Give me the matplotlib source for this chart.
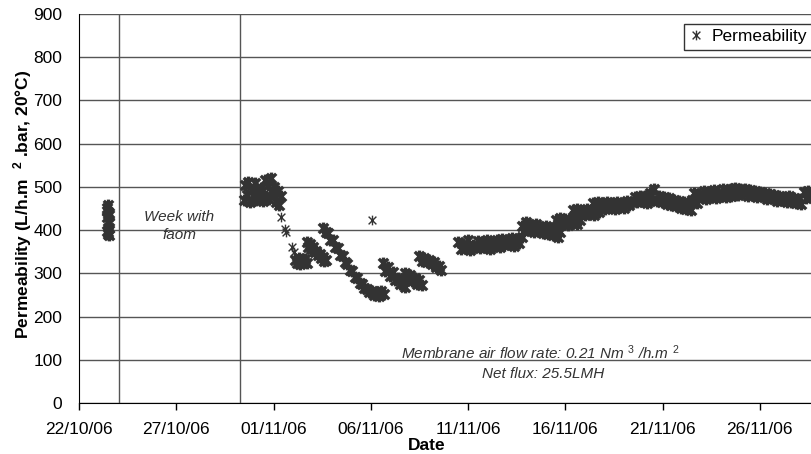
import datetime as dt

import matplotlib
matplotlib.use("Agg")
import matplotlib.pyplot as plt
import matplotlib.dates as mdates
from matplotlib.path import Path

plt.rcParams["font.family"] = ["Liberation Sans", "DejaVu Sans"]
plt.rcParams["mathtext.fontset"] = "custom"
plt.rcParams["mathtext.rm"] = "Liberation Sans"
plt.rcParams["mathtext.it"] = "Liberation Sans:italic"
plt.rcParams["mathtext.bf"] = "Liberation Sans:bold"

# permeability readings (L/h.m2.bar, 20C), one list per run
run_23oct = [430, 452, 398, 444, 392, 420, 458, 396, 436, 404, 416, 388, 440]
run_30oct = [470, 505, 482, 512, 465, 495, 478, 508, 470, 488, 475, 498,
             468, 515, 480, 505, 472, 520, 485, 500, 466, 490, 458, 478]
run_02nov_a = [332, 325, 336, 322, 330, 327, 334, 324]
run_02nov_b = [372, 362, 368, 356, 360, 350, 352, 342, 345, 335, 338, 328, 330]
run_03nov = [405, 396, 394, 378, 376, 360, 358, 343, 340, 326, 322, 308, 305,
             292, 290, 278, 276, 266, 264, 256, 258, 250, 256, 248, 258, 252]
run_06nov = [324, 306, 314, 294, 302, 284, 290, 276, 280, 268]
run_07nov = [300, 286, 296, 282, 290, 276, 284, 272]
run_08nov = [340, 328, 336, 326, 332, 322, 326, 314, 318, 308]
run_10nov = [372, 356, 368, 360, 376, 354, 366, 362, 374, 358, 372, 362, 378,
             356, 370, 364, 376, 360, 380, 366, 374, 368, 382, 364, 378, 370, 384]
run_13nov = [410, 398, 418, 402, 412, 396, 414, 400, 408, 394, 410, 392, 404,
             388, 400, 384, 396]
run_15nov = [424, 414, 428, 416, 426, 412, 422, 418, 428, 414, 424]
run_16nov = [446, 436, 450, 438, 444, 434, 448, 440, 446, 436, 450, 442]
run_17nov = [462, 450, 466, 452, 460, 448, 464, 454, 462, 450, 466, 456, 460,
             452, 468, 458, 464]
run_19nov = [476, 464, 480, 468, 478, 462, 486, 470, 494, 468, 480, 464, 476,
             460, 474, 458, 470, 456, 468, 452, 466, 448, 462, 446]
run_22nov = [470, 486, 462, 484, 476, 490, 472, 488, 478, 492, 474, 486, 480,
             494, 476, 490, 478, 494, 482]
run_24nov = [496, 484, 498, 482, 494, 486, 496, 480, 492, 484, 490, 476, 488,
             480, 486, 472, 484, 474, 482, 468, 480, 470, 476, 464, 478, 466,
             474, 462, 472, 460]
run_28nov = [488, 474, 490, 476, 486, 478]

# (first reading, hours between readings, readings)
runs = [
    ("2006-10-23 10:00", 0.3, run_23oct),
    ("2006-10-30 11:00", 2, run_30oct),
    ("2006-11-02 03:00", 2, run_02nov_a),
    ("2006-11-02 16:48", 2, run_02nov_b),
    ("2006-11-03 13:12", 3, run_03nov),
    ("2006-11-06 15:00", 3, run_06nov),
    ("2006-11-07 18:00", 3, run_07nov),
    ("2006-11-08 12:00", 3, run_08nov),
    ("2006-11-10 12:00", 3, run_10nov),
    ("2006-11-13 18:00", 3, run_13nov),
    ("2006-11-15 12:00", 3, run_15nov),
    ("2006-11-16 09:00", 3, run_16nov),
    ("2006-11-17 10:00", 3, run_17nov),
    ("2006-11-19 14:00", 3, run_19nov),
    ("2006-11-22 12:00", 3, run_22nov),
    ("2006-11-24 12:00", 3, run_24nov),
    ("2006-11-28 06:00", 3, run_28nov),
]

# single scattered readings
single_times = ["2006-11-01 09:20", "2006-11-01 14:24", "2006-11-01 16:00",
                "2006-11-01 22:48", "2006-11-02 01:12", "2006-11-06 01:26"]
single_values = [430, 403, 395, 360, 350, 423]

# start / end of the foaming week
foam_week = ["2006-10-24 01:00", "2006-10-30 07:00"]


def parse(s):
    return dt.datetime.strptime(s, "%Y-%m-%d %H:%M")


run_times, run_values = [], []
for start, step, vals in runs:
    t0 = parse(start)
    for i, v in enumerate(vals):
        run_times.append(t0 + dt.timedelta(hours=step * i))
        run_values.append(v)
single_dt = [parse(s) for s in single_times]

star = Path([(0, -1), (0, 1), (-0.8, -0.8), (0.8, 0.8), (-0.8, 0.8), (0.8, -0.8)],
            [Path.MOVETO, Path.LINETO] * 3)

fig = plt.figure(figsize=(8.11, 4.54), dpi=100)
ax = fig.add_axes([79 / 811, 51 / 454, 750.5 / 811, 389 / 454])

for s in foam_week:
    ax.axvline(parse(s), color="#555555", lw=1, zorder=1)

# dense logging runs: markers pile up into solid bands
ax.plot(run_times, run_values, linestyle="none", marker=star, ms=8.5, mew=2.4,
        color="#333333", zorder=3)
ax.plot(single_dt, single_values, linestyle="none", marker=star, ms=7, mew=1.0,
        color="#333333", label="Permeability", zorder=3)

ax.set_ylim(0, 900)
ax.set_yticks(range(0, 901, 100))
ax.set_xlim(dt.datetime(2006, 10, 22), dt.datetime(2006, 11, 29, 14))
ax.set_xticks([dt.datetime(2006, 10, 22) + dt.timedelta(days=5 * k) for k in range(8)])
ax.xaxis.set_major_formatter(mdates.DateFormatter("%d/%m/%y"))
ax.grid(axis="y", color="#555555", lw=1)
ax.set_axisbelow(True)
ax.tick_params(axis="x", direction="out", length=5, width=1, pad=9, labelsize=12.5)
ax.tick_params(axis="y", length=0, pad=12, labelsize=12.5)
for side in ("top", "right"):
    ax.spines[side].set_visible(False)
for side in ("left", "bottom"):
    ax.spines[side].set_color("black")

fig.text(23 / 811, 1 - 204 / 454,
         r"Permeability (L/h.m  $^{\mathbf{2}}$ .bar, 20°C)",
         rotation=90, ha="center", va="center", fontsize=12.5, fontweight="bold")
fig.text(427 / 811, 1 - 446 / 454, "Date", ha="center", va="center",
         fontsize=12.5, fontweight="bold")

fig.text(179 / 811, 1 - 226 / 454, "Week with\nfaom", ha="center", va="center",
         fontsize=11, style="italic", color="#333333", linespacing=1.3)
fig.text(540 / 811, 1 - 353 / 454,
         r"Membrane air flow rate: 0.21 Nm $^{3}$ /h.m $^{2}$",
         ha="center", va="center", fontsize=11, style="italic", color="#333333")
fig.text(543 / 811, 1 - 374 / 454, "Net flux: 25.5LMH", ha="center", va="center",
         fontsize=11, style="italic", color="#333333")

leg = ax.legend(loc="upper left", bbox_to_anchor=(684 / 811, 1 - 24 / 454),
                bbox_transform=fig.transFigure, borderaxespad=0, fontsize=12.5,
                fancybox=False, framealpha=1, edgecolor="#333333",
                handlelength=0.8, handletextpad=0.5, borderpad=0.3)
leg.get_frame().set_linewidth(1)

fig.savefig("out.png", dpi=100)
